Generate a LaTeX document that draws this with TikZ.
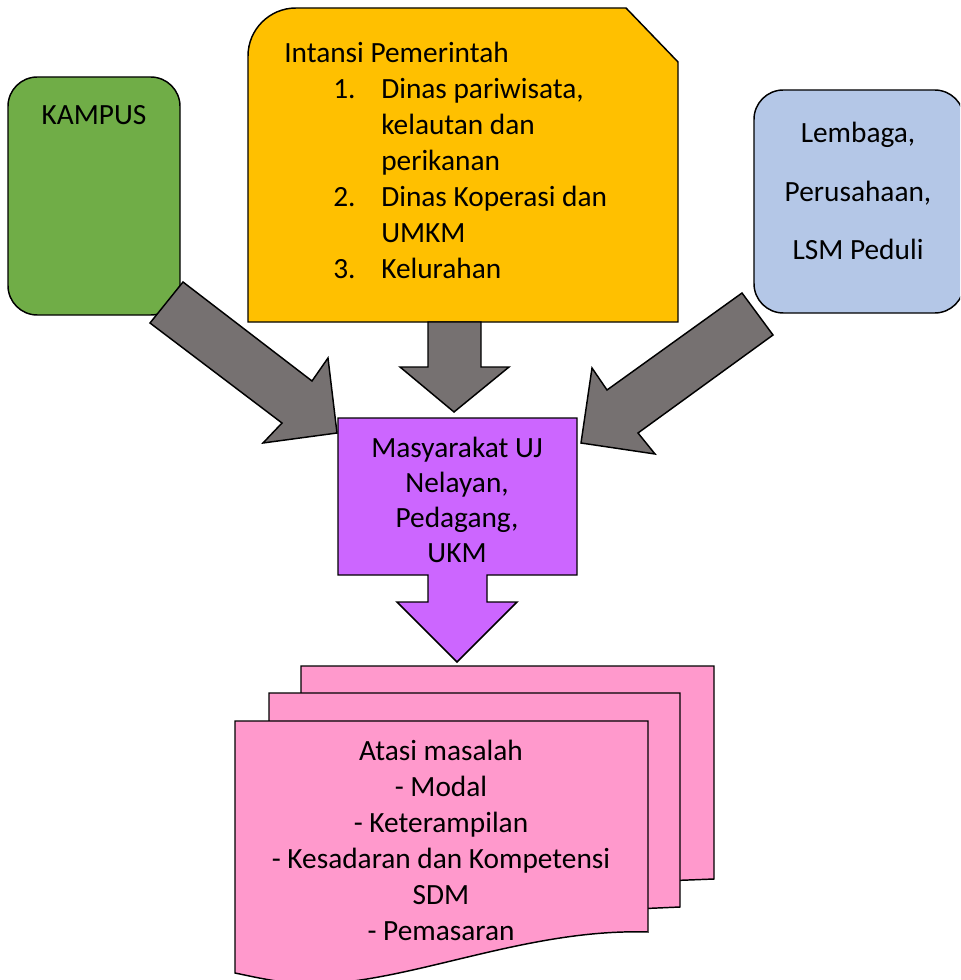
\documentclass[tikz,border=0pt]{standalone}
\usepackage{fontspec}
\setmainfont{Carlito}
\usepackage{tikz}
\usetikzlibrary{calc}
\usepackage{xcolor}
\definecolor{kampusgreen}{HTML}{70AD47}
\definecolor{govorange}{HTML}{FFC000}
\definecolor{lsmblue}{HTML}{B4C7E7}
\definecolor{masypurple}{HTML}{CC66FF}
\definecolor{docpink}{HTML}{FF99CC}
\definecolor{arrowgray}{HTML}{767171}
\tikzset{
  shapebox/.style = {draw, line width=1.1pt, line join=miter},
  bigarrow/.style = {draw, line width=1.1pt, fill=arrowgray, line join=miter},
  txt/.style = {inner sep=0pt, align=center, font=\fontsize{22}{27}\selectfont}
}

\begin{document}
\begin{tikzpicture}[x=0.75pt, y=-0.75pt]
\useasboundingbox (0,0) rectangle (960,980);
\clip (0,0) rectangle (960,980);

% source boxes
\draw[shapebox, fill=kampusgreen, rounded corners=22pt] (8,77) rectangle (180,315);
\draw[shapebox, fill=govorange] (248,322) [rounded corners=36pt] -- (248,8)
  [sharp corners] -- (626,8) -- (678,62) -- (678,322) -- cycle;
\draw[shapebox, fill=lsmblue, rounded corners=22pt] (754,90) rectangle (964,313);

\node[txt] (kampus) at (94,115) {KAMPUS};
\node[txt, anchor=north west, align=left] (gov) at (284,42)
  {Intansi Pemerintah\\
   \hspace*{36.75pt}\makebox[36pt][l]{1.}Dinas pariwisata,\\
   \hspace*{72.75pt}kelautan dan\\
   \hspace*{72.75pt}perikanan\\
   \hspace*{36.75pt}\makebox[36pt][l]{2.}Dinas Koperasi dan\\
   \hspace*{72.75pt}UMKM\\
   \hspace*{36.75pt}\makebox[36pt][l]{3.}Kelurahan};
\node[txt, font=\fontsize{22}{44}\selectfont] (lsm) at (858,191)
  {Lembaga,\\ Perusahaan,\\ LSM Peduli};

% target callout
\draw[shapebox, fill=masypurple] (338,418) -- (577,418) -- (577,575) -- (487,575)
  -- (487,602) -- (517,602) -- (457,662) -- (397,602) -- (428,602) -- (428,575)
  -- (338,575) -- cycle;
\node[txt, font=\fontsize{22}{26.25}\selectfont] (masy) at (457,500)
  {Masyarakat UJ\\ Nelayan,\\ Pedagang,\\ UKM};

% block arrows
\draw[bigarrow] (183,282) -- (312,381) -- (328,358) -- (337,433) -- (263,443)
  -- (282,423) -- (150,323) -- cycle;
\draw[bigarrow] (428,322) -- (481,322) -- (481,367) -- (509,367) -- (454,412)
  -- (400,367) -- (428,367) -- cycle;
\draw[bigarrow] (742,293) -- (773,335) -- (638,433) -- (655,454) -- (581,443)
  -- (592,368) -- (607,390) -- cycle;

% multi-document
\draw[shapebox, fill=docpink] (301,666) -- (714,666) -- (714,879) -- (301,895) -- cycle;
\draw[shapebox, fill=docpink] (269,693) -- (680,693) -- (680,907) -- (269,925) -- cycle;
\draw[shapebox, fill=docpink] (235,721) -- (648,721) -- (648,932)
  .. controls (520,928) and (400,988) .. (300,984)
  .. controls (270,981) and (250,976) .. (235,973) -- cycle;
\node[txt] (masalah) at (441,840)
  {Atasi masalah\\ - Modal\\ - Keterampilan\\ - Kesadaran dan Kompetensi\\ SDM\\ - Pemasaran};

\end{tikzpicture}
\end{document}
